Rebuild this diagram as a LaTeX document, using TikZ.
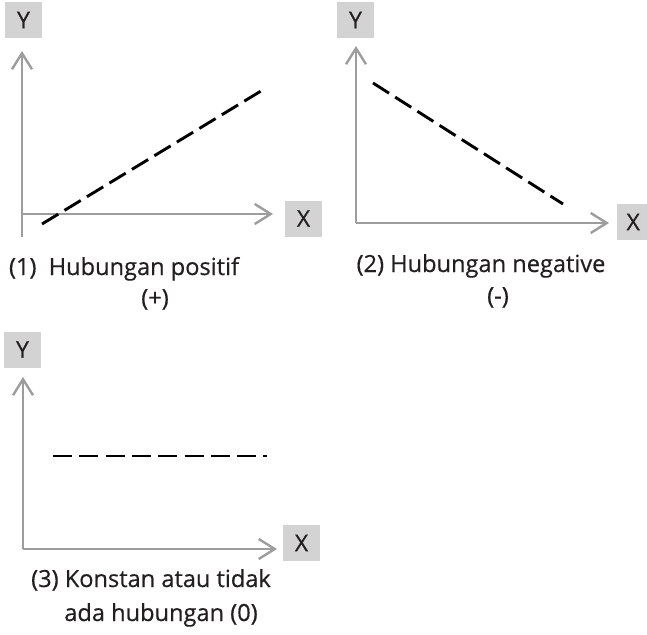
\documentclass[tikz,border=0pt]{standalone}
\usepackage{fontspec}
\setmainfont{Open Sans}
\newfontfamily\labelfont{Open Sans}[FakeBold=0.5]
\usetikzlibrary{arrows.meta}
\definecolor{axisgray}{HTML}{9D9D9D}
\definecolor{boxgray}{HTML}{D3D3D3}
\definecolor{ink}{HTML}{231F20}
\tikzset{
  axislabel/.style={fill=boxgray, text=ink, minimum width=37pt, minimum height=36pt,
    inner sep=0pt, font=\labelfont\fontsize{23}{24}\selectfont},
  axis/.style={draw=axisgray, line width=2.4pt,
    -{Straight Barb[length=16pt, width=20pt, line width=2.4pt]}},
  trend/.style={draw=black, line width=2.9pt, dash pattern=on 19pt off 7.3pt},
  caption/.style={text=ink, font=\labelfont\fontsize{23.6}{28}\selectfont, inner sep=0pt, anchor=base}
}
\begin{document}
\begin{tikzpicture}[x=1pt, y=-1pt]
\useasboundingbox (0,0) rectangle (647,634);

% (1) positive relation
\node[axislabel] (y1) at (23.5,20) {Y};
\node[axislabel] (x1) at (303.5,218.5) {X};
\coordinate (ybot1) at (22,237);
\coordinate (ytip1) at (22,51);
\coordinate (o1) at (22,214);
\coordinate (xtip1) at (273,214);
\coordinate (a1) at (42,224);
\coordinate (b1) at (261,91);
\draw[axis] (ybot1) -- (ytip1);
\draw[axis] (o1) -- (xtip1);
\draw[trend] (a1) -- (b1);
\node[caption] (c1) at (124,275) {(1)\ \ Hubungan positif};
\node[caption] (s1) at (155,306) {(+)};

% (2) negative relation
\node[axislabel] (y2) at (355.5,20) {Y};
\node[axislabel, minimum width=32pt, anchor=west] (x2) at (617,222) {X};
\coordinate (ytip2) at (356,46);
\coordinate (o2) at (356,223);
\coordinate (xtip2) at (609,223);
\coordinate (a2) at (373,83);
\coordinate (b2) at (563,204);
\draw[axis] (o2) -- (ytip2);
\draw[axis] (o2) -- (xtip2);
\draw[trend] (a2) -- (b2);
\node[caption] (c2) at (481,272) {(2) Hubungan negative};
\node[caption] (s2) at (498,304) {(-)};

% (3) constant / no relation
\node[axislabel] (y3) at (22.5,349.5) {Y};
\node[axislabel] (x3) at (301.5,543) {X};
\coordinate (ytip3) at (23,377);
\coordinate (o3) at (23,549);
\coordinate (xtip3) at (277,549);
\coordinate (a3) at (53,456);
\coordinate (b3) at (267,456);
\draw[axis] (o3) -- (ytip3);
\draw[axis] (o3) -- (xtip3);
\draw[trend] (a3) -- (b3);
\node[caption] (c3) at (151,587) {(3) Konstan atau tidak};
\node[caption] (s3) at (161,621) {ada hubungan (0)};
\end{tikzpicture}
\end{document}
